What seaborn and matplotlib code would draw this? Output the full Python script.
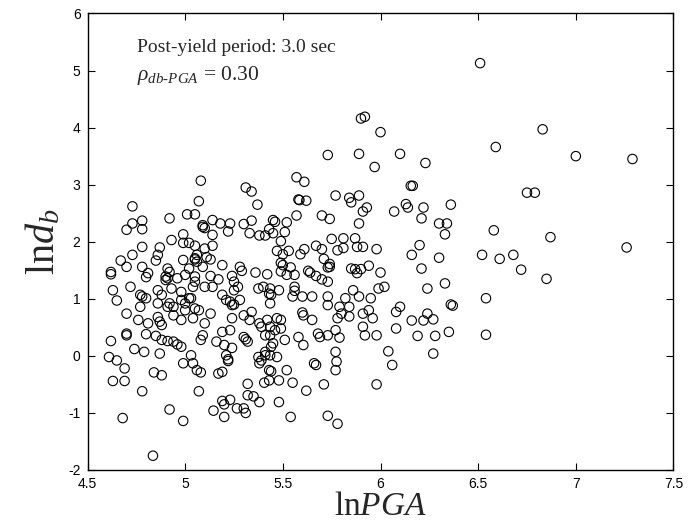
import matplotlib
matplotlib.use("Agg")
import matplotlib.pyplot as plt
import pandas as pd
import seaborn as sns

# ---- data: (lnPGA, ln d_b) pairs ----
pts_far_right = [(6.51, 5.13), (6.83, 3.97), (6.59, 3.66), (7.00, 3.50), (7.29, 3.45), (6.23, 3.38),
                 (6.155, 2.98), (6.165, 2.98), (6.75, 2.86), (6.79, 2.86), (6.22, 2.60), (6.36, 2.65),
                 (6.21, 2.41), (6.30, 2.32), (6.34, 2.32), (6.33, 2.13), (6.58, 2.20), (6.87, 2.08),
                 (6.20, 1.94), (7.26, 1.90)]
pts_right_low = [(6.16, 1.77), (6.30, 1.72), (6.52, 1.77), (6.61, 1.70), (6.68, 1.77), (6.72, 1.51),
                 (6.85, 1.35), (6.21, 1.53), (6.33, 1.27), (6.24, 1.18), (6.54, 1.01), (6.36, 0.90),
                 (6.37, 0.88), (6.24, 0.74), (6.16, 0.62), (6.22, 0.62), (6.27, 0.64), (6.19, 0.35),
                 (6.28, 0.35), (6.35, 0.42), (6.54, 0.37), (6.27, 0.04)]
pts_top_mid = [(5.90, 4.16), (5.92, 4.19), (6.00, 3.92), (5.73, 3.52), (5.89, 3.54), (6.10, 3.54), (5.97, 3.31)]
pts_upper_left = [(5.08, 3.07), (5.07, 2.71), (4.73, 2.62), (4.73, 2.32), (4.78, 2.37), (4.70, 2.21),
                  (4.78, 2.22), (4.92, 2.41), (5.01, 2.48), (5.05, 2.48), (5.09, 2.29), (5.09, 2.26),
                  (5.10, 2.24), (5.14, 2.38), (5.18, 2.32), (5.23, 2.32), (5.22, 2.18), (5.14, 2.12),
                  (4.99, 2.13), (4.93, 2.03), (4.99, 1.98), (5.02, 1.98), (5.05, 1.93), (5.10, 1.88),
                  (5.14, 1.93), (4.78, 1.91), (4.87, 1.90), (4.86, 1.77), (4.73, 1.77), (4.67, 1.67),
                  (4.70, 1.56), (4.62, 1.47), (4.62, 1.43), (4.78, 1.56), (4.81, 1.45), (4.80, 1.38),
                  (4.85, 1.67), (4.91, 1.53), (4.92, 1.47), (4.90, 1.39), (4.91, 1.36), (4.90, 1.33),
                  (4.99, 1.68), (5.05, 1.69), (5.06, 1.65), (5.05, 1.71), (5.06, 1.77), (5.11, 1.73),
                  (5.13, 1.69), (5.09, 1.56), (5.02, 1.53), (4.96, 1.36), (5.00, 1.42), (5.05, 1.39),
                  (5.05, 1.30), (5.13, 1.40), (5.17, 1.34), (5.19, 1.59), (5.24, 1.40), (5.25, 1.30),
                  (5.28, 1.56), (5.29, 1.49), (5.27, 1.21)]
pts_upper_mid = [(5.57, 3.13), (5.61, 3.05), (5.31, 2.95), (5.34, 2.88), (5.37, 2.65), (5.58, 2.74),
                 (5.585, 2.73), (5.62, 2.72), (5.77, 2.81), (5.84, 2.77), (5.89, 2.81), (5.85, 2.69),
                 (5.93, 2.60), (5.91, 2.53), (6.13, 2.66), (6.14, 2.60), (6.07, 2.53), (5.57, 2.46),
                 (5.70, 2.46), (5.74, 2.40), (5.89, 2.32), (5.34, 2.37), (5.45, 2.38), (5.46, 2.35),
                 (5.30, 2.31), (5.52, 2.34), (5.33, 2.15), (5.38, 2.11), (5.41, 2.11), (5.43, 2.22),
                 (5.45, 2.15), (5.51, 2.17), (5.49, 2.01), (5.47, 1.84), (5.53, 1.84), (5.50, 1.78),
                 (5.49, 1.63), (5.50, 1.59), (5.59, 1.78), (5.61, 1.87), (5.67, 1.93), (5.70, 1.87),
                 (5.71, 1.70), (5.74, 1.61), (5.74, 1.56), (5.73, 1.55), (5.75, 2.05), (5.81, 2.06),
                 (5.78, 1.85), (5.81, 1.89), (5.87, 2.06), (5.88, 1.91), (5.91, 1.91), (5.98, 1.87),
                 (5.94, 1.58), (6.00, 1.46), (5.85, 1.53), (5.87, 1.52), (5.90, 1.52), (5.88, 1.45),
                 (5.36, 1.46), (5.42, 1.43), (5.54, 1.55), (5.56, 1.42), (5.49, 1.48), (5.52, 1.42),
                 (5.63, 1.49), (5.64, 1.46), (5.67, 1.40), (5.70, 1.34), (5.73, 1.30)]
pts_lower_left = [(4.63, 1.15), (4.65, 0.97), (4.72, 1.21), (4.77, 1.07), (4.78, 1.04), (4.80, 1.01),
                  (4.77, 0.86), (4.86, 1.15), (4.88, 1.07), (4.86, 0.92), (4.93, 1.18), (4.92, 0.92),
                  (4.94, 0.86), (4.98, 1.12), (4.98, 0.98), (5.00, 0.92), (5.02, 1.01), (5.03, 1.01),
                  (5.00, 0.80), (5.04, 1.21), (5.05, 0.83), (5.07, 0.80), (5.10, 1.21), (5.14, 1.21),
                  (5.13, 0.74), (5.19, 1.07), (5.21, 0.98), (5.23, 0.95), (5.24, 0.89), (5.25, 0.90),
                  (5.25, 1.15), (5.28, 0.98), (5.30, 0.71), (5.34, 0.77), (5.24, 0.66), (4.70, 0.74),
                  (4.76, 0.63), (4.81, 0.57), (4.86, 0.68), (4.87, 0.60), (4.88, 0.54), (4.91, 0.86),
                  (4.94, 0.71), (4.98, 0.63), (5.04, 0.66), (5.10, 0.57), (5.09, 0.36), (5.08, 0.28),
                  (5.19, 0.42), (5.23, 0.45), (5.33, 0.63), (4.62, 0.26), (4.70, 0.39), (4.70, 0.36),
                  (4.80, 0.38), (4.85, 0.35), (4.88, 0.28), (4.91, 0.26), (4.94, 0.25), (4.96, 0.20),
                  (4.98, 0.16), (5.16, 0.25), (5.20, 0.19), (5.24, 0.14), (5.30, 0.33), (5.31, 0.29),
                  (5.32, 0.25), (4.74, 0.12), (4.79, 0.07), (4.87, 0.04), (4.61, -0.02), (4.65, -0.08),
                  (4.69, -0.22), (5.03, 0.01), (4.99, -0.13), (5.04, -0.13), (5.06, -0.25), (5.08, -0.29),
                  (5.21, 0.01), (5.22, -0.06), (5.22, -0.09), (4.84, -0.29), (4.88, -0.34), (5.17, -0.31),
                  (5.19, -0.28)]
pts_lower_mid = [(5.375, 1.18), (5.40, 1.21), (5.435, 1.18), (5.43, 1.09), (5.48, 1.15), (5.435, 0.92),
                 (5.55, 1.04), (5.56, 1.21), (5.60, 1.04), (5.65, 1.04), (5.73, 1.04), (5.73, 0.89),
                 (5.82, 1.01), (5.86, 1.15), (5.89, 1.04), (5.79, 0.86), (5.84, 0.86), (5.95, 1.01),
                 (5.99, 1.18), (6.02, 1.21), (6.10, 0.86), (6.08, 0.77), (5.38, 0.57), (5.42, 0.63),
                 (5.47, 0.66), (5.49, 0.63), (5.39, 0.51), (5.435, 0.51), (5.46, 0.45), (5.49, 0.48),
                 (5.41, 0.36), (5.435, 0.36), (5.60, 0.76), (5.605, 0.71), (5.65, 0.63), (5.78, 0.66),
                 (5.80, 0.74), (5.77, 0.45), (5.79, 0.32), (5.68, 0.39), (5.69, 0.33), (5.73, 0.36),
                 (5.91, 0.74), (5.94, 0.80), (5.96, 0.66), (5.91, 0.51), (5.92, 0.36), (5.98, 0.36),
                 (6.08, 0.48), (5.45, 0.22), (5.44, 0.16), (5.435, 0.01), (5.51, 0.28), (5.58, 0.33),
                 (5.605, 0.19), (5.375, -0.02), (5.39, -0.08), (5.41, 0.01), (5.38, -0.13), (5.47, -0.02),
                 (5.43, -0.25), (5.44, -0.27), (5.52, -0.25), (5.66, -0.13), (5.67, -0.16), (5.77, 0.07),
                 (5.775, -0.10), (5.77, -0.25), (6.04, 0.08), (6.06, -0.16), (5.84, 0.69), (5.56, 1.14),
                 (5.44, 1.07), (5.41, 0.07)]
pts_bottom = [(4.63, -0.44), (4.69, -0.44), (4.78, -0.62), (5.07, -0.62), (4.92, -0.94), (4.99, -1.14),
              (4.68, -1.09), (4.835, -1.75), (5.145, -0.96), (5.19, -0.79), (5.20, -0.85), (5.23, -0.77),
              (5.20, -1.07), (5.265, -0.92), (5.30, -0.92), (5.31, -1.00), (5.32, -0.49), (5.32, -0.69),
              (5.35, -0.71), (5.38, -0.81), (5.405, -0.47), (5.43, -0.43), (5.48, -0.43), (5.55, -0.47),
              (5.48, -0.81), (5.54, -1.07), (5.62, -0.61), (5.71, -0.50), (5.73, -1.05), (5.78, -1.19),
              (5.98, -0.50)]

x_ticks = [4.5, 5, 5.5, 6, 6.5, 7, 7.5]
x_tick_labels = ["4.5", "5", "5.5", "6", "6.5", "7", "7.5"]
y_ticks = [-2, -1, 0, 1, 2, 3, 4, 5, 6]
y_tick_labels = ["-2", "-1", "0", "1", "2", "3", "4", "5", "6"]
note_line1 = "Post-yield period: 3.0 sec"
note_line2 = r"$\rho_{\mathit{db}\text{-}\mathit{PGA}}$" + " = 0.30"

all_pts = (pts_far_right + pts_right_low + pts_top_mid + pts_upper_left + pts_upper_mid
           + pts_lower_left + pts_lower_mid + pts_bottom)
df = pd.DataFrame(all_pts, columns=["lnPGA", "lndb"])

sns.set_style("ticks")
plt.rcParams.update({
    "font.family": ["Liberation Sans", "DejaVu Sans"],
    "mathtext.fontset": "custom",
    "mathtext.rm": "Liberation Serif",
    "mathtext.it": "Liberation Serif:italic",
    "mathtext.bf": "Liberation Serif:bold",
    "xtick.direction": "in",
    "ytick.direction": "in",
    "xtick.top": True,
    "ytick.right": True,
})

fig = plt.figure(figsize=(6.89, 5.31), dpi=100)
ax = fig.add_axes([0.1270, 0.1149, 0.8505, 0.8597])

sns.scatterplot(data=df, x="lnPGA", y="lndb", ax=ax, marker="o", s=46,
                facecolors="none", edgecolors="black", linewidths=0.8)

ax.set_xlim(4.5, 7.5)
ax.set_ylim(-2, 6)
ax.set_xticks(x_ticks)
ax.set_xticklabels(x_tick_labels)
ax.set_yticks(y_ticks)
ax.set_yticklabels(y_tick_labels)
ax.tick_params(axis="both", which="major", length=5, width=0.8, labelsize=10,
               colors="black", top=True, right=True, pad=5)
for sp in ax.spines.values():
    sp.set_visible(True)
    sp.set_linewidth(1.0)
    sp.set_color("black")

ax.set_xlabel(r"$\mathrm{ln}\mathit{PGA}$", fontsize=24, labelpad=0)
ax.set_ylabel(r"$\mathrm{ln}\mathit{d}_{\mathit{b}}$", fontsize=29, labelpad=4)

ax.text(4.755, 5.33, note_line1, fontsize=14, family="Liberation Serif", va="baseline", ha="left")
ax.text(4.755, 4.84, note_line2, fontsize=15.5, family="Liberation Serif", va="baseline", ha="left")

fig.savefig("out.png", dpi=100)
